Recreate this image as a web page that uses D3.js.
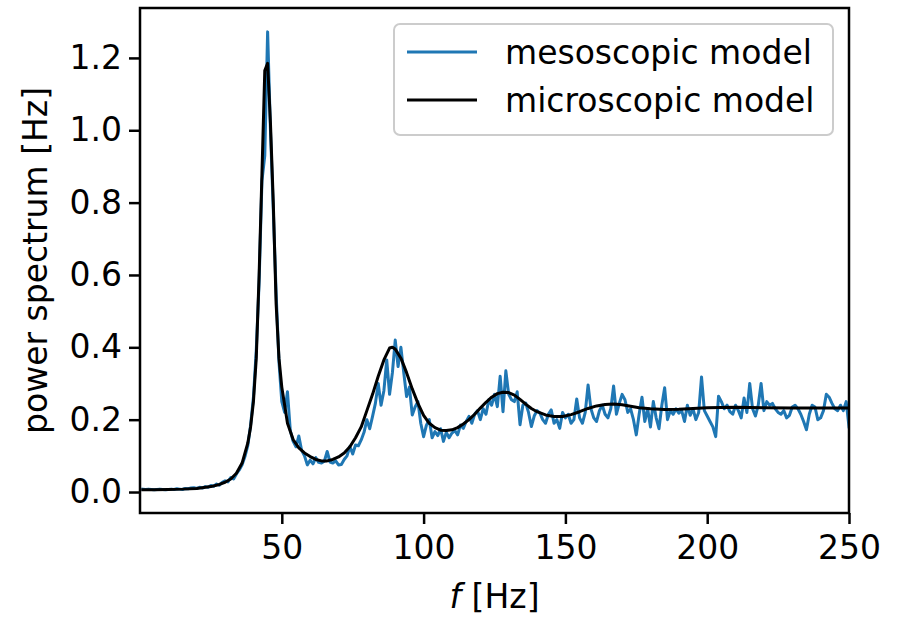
<!DOCTYPE html>
<html>
<head>
<meta charset="utf-8">
<script src="https://cdn.jsdelivr.net/npm/d3@7"></script>
<style>
  body { margin: 0; background: #fff; }
  svg text { font-family: "DejaVu Sans", sans-serif; fill: #000; }
</style>
</head>
<body>
<div id="vis"></div>
<script>
// mesoscopic model: one value per Hz, f = 1..250
var mesoFreq = d3.range(1, 251);
var mesoPower = [
  0.008,0.007,0.008,0.007,0.006,0.007,0.008,0.007,0.006,0.007,
  0.008,0.007,0.009,0.008,0.007,0.010,0.009,0.011,0.012,0.010,
  0.013,0.011,0.015,0.013,0.018,0.016,0.022,0.019,0.027,0.031,
  0.028,0.040,0.036,0.050,0.061,0.075,0.098,0.128,0.185,0.262,
  0.392,0.580,0.860,0.930,1.272,1.000,0.780,0.550,0.360,0.250,
  0.220,0.277,0.170,0.140,0.125,0.155,0.115,0.100,0.075,0.088,
  0.078,0.095,0.082,0.080,0.085,0.112,0.083,0.080,0.086,0.075,
  0.076,0.090,0.100,0.126,0.105,0.130,0.128,0.144,0.165,0.200,
  0.175,0.209,0.245,0.300,0.240,0.280,0.365,0.270,0.330,0.420,
  0.347,0.400,0.330,0.264,0.290,0.213,0.235,0.250,0.190,0.153,
  0.185,0.200,0.150,0.167,0.156,0.175,0.140,0.165,0.150,0.163,
  0.170,0.158,0.185,0.176,0.195,0.209,0.190,0.215,0.225,0.200,
  0.230,0.215,0.255,0.240,0.270,0.236,0.320,0.222,0.335,0.270,
  0.255,0.250,0.277,0.186,0.240,0.246,0.220,0.181,0.210,0.225,
  0.218,0.200,0.190,0.215,0.227,0.190,0.200,0.176,0.220,0.205,
  0.215,0.190,0.200,0.257,0.205,0.190,0.220,0.296,0.230,0.205,
  0.195,0.225,0.240,0.215,0.205,0.230,0.293,0.215,0.245,0.270,
  0.255,0.220,0.230,0.200,0.158,0.215,0.262,0.195,0.230,0.180,
  0.250,0.205,0.175,0.240,0.288,0.200,0.225,0.215,0.230,0.218,
  0.225,0.195,0.240,0.212,0.230,0.200,0.220,0.318,0.225,0.210,
  0.195,0.180,0.153,0.265,0.250,0.230,0.240,0.222,0.215,0.240,
  0.225,0.205,0.260,0.220,0.300,0.230,0.210,0.240,0.300,0.225,
  0.250,0.240,0.245,0.230,0.220,0.215,0.225,0.205,0.212,0.235,
  0.240,0.230,0.215,0.195,0.172,0.215,0.240,0.235,0.200,0.205,
  0.225,0.270,0.262,0.245,0.230,0.225,0.240,0.225,0.250,0.180
];

// microscopic model (smooth curve)
var microFreq = [1,5,10,15,20,25,28,30,32,34,36,38,39,40,41,42,43,44,45,46,47,48,49,50,
  52,54,56,58,60,62,64,66,68,70,72,74,76,78,80,82,84,86,88,89,90,92,94,96,98,100,
  102,104,106,108,110,112,114,116,118,120,122,124,126,128,130,132,134,136,138,140,
  143,146,149,152,155,158,161,164,167,170,173,176,180,185,190,195,200,210,220,230,240,250];
var microPower = [0.006,0.006,0.007,0.008,0.010,0.015,0.021,0.027,0.036,0.052,0.080,0.135,0.18,0.25,0.37,0.60,0.88,1.165,1.185,1.02,0.80,0.52,0.37,0.29,
  0.19,0.145,0.122,0.108,0.098,0.090,0.086,0.086,0.090,0.097,0.108,0.125,0.15,0.18,0.225,0.27,0.32,0.365,0.398,0.40,0.395,0.37,0.33,0.285,0.245,0.212,
  0.19,0.178,0.171,0.17,0.172,0.178,0.188,0.20,0.215,0.232,0.248,0.262,0.272,0.276,0.275,0.268,0.256,0.243,0.231,0.222,
  0.213,0.209,0.209,0.214,0.222,0.231,0.238,0.242,0.243,0.241,0.237,0.233,0.230,0.228,0.229,0.231,0.233,0.234,0.233,0.232,0.232,0.232];

var xTicks = [50, 100, 150, 200, 250];
var yTicks = [0.0, 0.2, 0.4, 0.6, 0.8, 1.0, 1.2];
var seriesNames = ['mesoscopic model', 'microscopic model'];
var seriesColors = ['#1f77b4', '#000000'];

var W = 897, H = 617;
var margin = {top: 8, right: 48, bottom: 104, left: 140};
var width = W - margin.left - margin.right;
var height = H - margin.top - margin.bottom;

var svg = d3.select('#vis').append('svg').attr('width', W).attr('height', H);
var g = svg.append('g').attr('transform', 'translate(' + margin.left + ',' + margin.top + ')');

var x_scale = d3.scaleLinear().domain([0, 250]).range([0, width]);
var y_scale = d3.scaleLinear().domain([-0.058, 1.338]).range([height, 0]);

g.append('clipPath').attr('id', 'clip').append('rect').attr('width', width).attr('height', height);

var line = d3.line().x(function(d) { return x_scale(d[0]); }).y(function(d) { return y_scale(d[1]); });

var meso = mesoFreq.map(function(f, i) { return [f, mesoPower[i]]; });
var micro = microFreq.map(function(f, i) { return [f, microPower[i]]; });

var lines = g.append('g').attr('clip-path', 'url(#clip)');
lines.append('path').datum(meso).attr('d', line)
  .attr('fill', 'none').attr('stroke', seriesColors[0]).attr('stroke-width', 3)
  .attr('stroke-linejoin', 'round').attr('stroke-linecap', 'square');
lines.append('path').datum(micro).attr('d', line)
  .attr('fill', 'none').attr('stroke', seriesColors[1]).attr('stroke-width', 3)
  .attr('stroke-linejoin', 'round').attr('stroke-linecap', 'square');

var x_axis = d3.axisBottom(x_scale).tickValues(xTicks).tickFormat(d3.format('d')).tickSize(11).tickPadding(12);
var y_axis = d3.axisLeft(y_scale).tickValues(yTicks).tickFormat(d3.format('.1f')).tickSize(11).tickPadding(7);

var gx = g.append('g').attr('transform', 'translate(0,' + height + ')').call(x_axis);
var gy = g.append('g').call(y_axis);
[gx, gy].forEach(function(a) {
  a.select('.domain').remove();
  a.selectAll('.tick line').attr('stroke', '#000').attr('stroke-width', 2.5);
  a.selectAll('.tick text').attr('font-size', 33).attr('font-family', 'DejaVu Sans').attr('fill', '#000');
});

// frame
g.append('rect').attr('width', width).attr('height', height)
  .attr('fill', 'none').attr('stroke', '#000').attr('stroke-width', 2.5);

// axis labels
var xl = svg.append('text').attr('x', margin.left + width / 2).attr('y', 608)
  .attr('text-anchor', 'middle').attr('font-size', 33);
xl.append('tspan').attr('font-style', 'italic').text('f');
xl.append('tspan').text(' [Hz]');

svg.append('text').attr('transform', 'translate(47,' + (margin.top + height / 2) + ') rotate(-90)')
  .attr('text-anchor', 'middle').attr('font-size', 33).text('power spectrum [Hz]');

// legend
var lg = svg.append('g');
lg.append('rect').attr('x', 394).attr('y', 24).attr('width', 439).attr('height', 111).attr('rx', 6)
  .attr('fill', '#fff').attr('fill-opacity', 0.8).attr('stroke', '#cccccc').attr('stroke-width', 2);
seriesNames.forEach(function(name, i) {
  var yy = 52 + i * 48;
  lg.append('line').attr('x1', 407).attr('x2', 477).attr('y1', yy).attr('y2', yy)
    .attr('stroke', seriesColors[i]).attr('stroke-width', 3);
  lg.append('text').attr('x', 505).attr('y', yy).attr('dy', '0.35em').attr('font-size', 33).text(name);
});
</script>
</body>
</html>
